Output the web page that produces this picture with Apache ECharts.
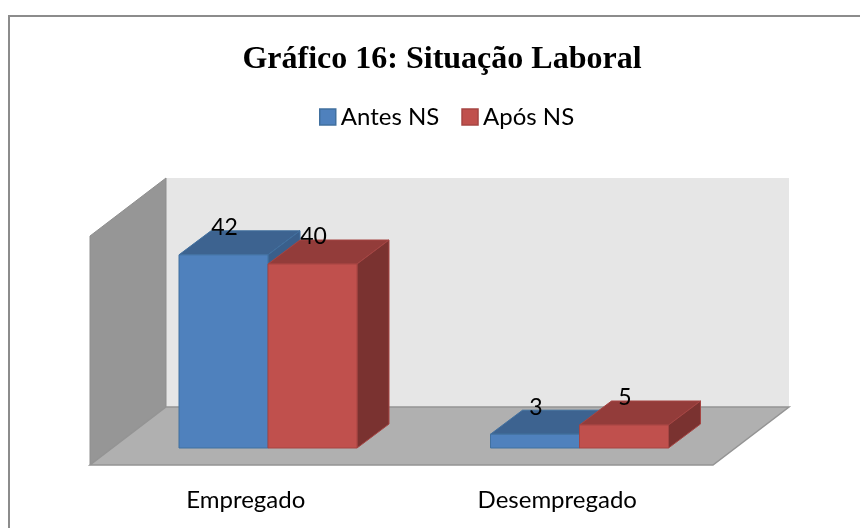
<!DOCTYPE html>
<html><head><meta charset="utf-8">
<style>html,body{margin:0;padding:0;background:#fff}#c{width:860px;height:528px}</style>
<script src="https://cdn.jsdelivr.net/npm/echarts@6/dist/echarts.min.js"></script>
</head><body><div id="c"></div>
<script>
var categories = ['Empregado', 'Desempregado'];
var antesNS = [42, 3];
var aposNS = [40, 5];
var seriesNames = ['Antes NS', 'Após NS'];
var titleText = 'Gráfico 16: Situação Laboral';

var LEFT = 90, WIDTH = 623, BASE = 448, UNIT = 4.6;
var DX = 32, DY = 24, BAR = 89, SHIFT = 22.25;
var FONT = 'Lato, "Open Sans", sans-serif';
var palettes = [
  {front:'#4f81bd', top:'#3d6390', side:'#3a5f8b', edge:'#41709f'},
  {front:'#c0504d', top:'#933c3a', side:'#7a3230', edge:'#a64543'}
];

function poly(points, fill, edge){
  return {type:'polygon', shape:{points:points}, style:{fill:fill, stroke:edge, lineWidth:1}};
}
function barSeries(name, data, idx){
  return {
    name:name, type:'custom', data:data, z:5+idx,
    itemStyle:{color:palettes[idx].front, borderColor:palettes[idx].edge, borderWidth:1},
    encode:{x:0, y:1},
    renderItem:function(params, api){
      var c = api.coord([api.value(0), api.value(1)]);
      var base = api.coord([api.value(0), 0]);
      var p = palettes[idx];
      var x0 = c[0] + SHIFT + (idx - 1) * BAR, x1 = x0 + BAR, yt = c[1], yb = base[1];
      var children = [
        poly([[x0,yt],[x1,yt],[x1+DX,yt-DY],[x0+DX,yt-DY]], p.top, p.edge),
        poly([[x1,yt],[x1+DX,yt-DY],[x1+DX,yb-DY],[x1,yb]], p.side, p.edge),
        poly([[x0,yt],[x1,yt],[x1,yb],[x0,yb]], p.front, p.edge),
        {type:'text', z2:100, style:{text:String(api.value(1)), x:(x0+x1)/2+1, y:yt-27, align:'center', verticalAlign:'middle',
          font:'23px '+FONT, fill:'#000'}}
      ];
      return {type:'group', children:children};
    }
  };
}
function catData(vals){ return vals.map(function(v,i){return [categories[i], v];}); }

var chart = echarts.init(document.getElementById('c'), null, {renderer:'canvas'});
chart.setOption({
  animation:false,
  backgroundColor:'#fff',
  title:{text:titleText, left:437, top:39, textAlign:'center',
    textStyle:{fontFamily:'"Liberation Serif", serif', fontWeight:'bold', fontSize:32, color:'#000'}},
  legend:{
    data:[{name:seriesNames[0], itemStyle:{color:palettes[0].front, borderColor:palettes[0].edge, borderWidth:1.5}},
          {name:seriesNames[1], itemStyle:{color:palettes[1].front, borderColor:palettes[1].edge, borderWidth:1.5}}],
    icon:'rect', left:314, top:100, itemWidth:16, itemHeight:16, itemGap:22,
    textStyle:{fontFamily:FONT, fontSize:24, color:'#000'}
  },
  grid:{left:LEFT, width:WIDTH, top:BASE-50*UNIT, height:50*UNIT, containLabel:false},
  xAxis:{type:'category', data:categories, axisLine:{show:false}, axisTick:{show:false},
    splitLine:{show:false},
    axisLabel:{margin:40, interval:0, fontFamily:FONT, fontSize:24, color:'#000'}},
  yAxis:{type:'value', min:0, max:50, interval:10, show:false},
  graphic:{elements:[
    {type:'rect', shape:{x:9,y:16,width:880,height:540}, style:{fill:'none',stroke:'#8c8c8c',lineWidth:2}, z:0},
    {type:'polygon', shape:{points:[[166,178],[789,178],[789,407],[166,407]]}, style:{fill:'#e6e6e6'}, z:1},
    {type:'polygon', shape:{points:[[90,236],[166,178],[166,407],[90,465]]}, style:{fill:'#969696', stroke:'#8e8e8e', lineWidth:1}, z:1},
    {type:'polygon', shape:{points:[[90,465],[166,407],[789,407],[713,465]]}, style:{fill:'#b0b0b0', stroke:'#949494', lineWidth:1.5}, z:1}
  ]},
  series:[barSeries(seriesNames[0], catData(antesNS), 0), barSeries(seriesNames[1], catData(aposNS), 1)]
});
</script></body></html>
